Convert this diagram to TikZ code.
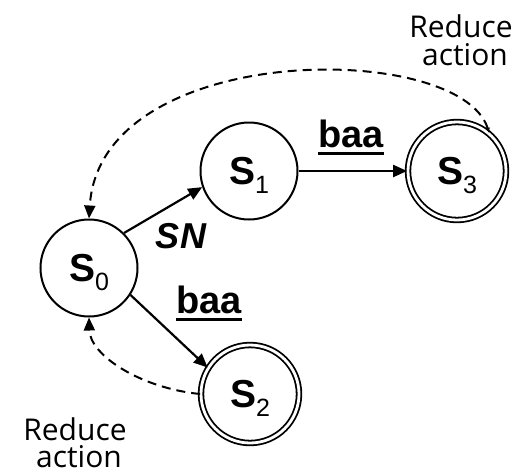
\documentclass[tikz,border=0pt]{standalone}
\usepackage{fontspec}
\setmainfont{Liberation Sans}
\newfontfamily\handfont{Open Sans}
\usetikzlibrary{arrows.meta}

% state name with a large, lowered, non-bold index
\newcommand\statelabel[1]{\textbf{S}\raisebox{-9pt}[0pt][0pt]{\fontsize{25}{25}\selectfont #1}}
% heavy underline for transition labels
\newcommand\thickul[1]{\setbox0=\hbox{#1}\rlap{\rule[-7.5pt]{\wd0}{2.8pt}}\box0}

\begin{document}
\begin{tikzpicture}[x=1pt,y=-1pt,
  state/.style={circle, draw, line width=2pt, minimum size=97pt, inner sep=0pt,
    font=\fontsize{39}{39}\selectfont},
  accept/.style={state, line width=1.8pt, double, double distance=2.8pt, minimum size=98pt},
  edge/.style={line width=2.2pt, -{Triangle[length=14pt,width=12pt]}},
  reduce/.style={line width=2pt, dash pattern=on 9pt off 6pt,
    -{Triangle[length=13pt,width=11pt]}},
  edgelabel/.style={anchor=base, inner sep=0pt, font=\fontsize{38}{38}\selectfont\bfseries},
  note/.style={anchor=base, inner sep=0pt, font=\fontsize{30}{30}\selectfont\handfont}]

\useasboundingbox (0,0) rectangle (527,475);

% states
\node[state]  (s0) at (89,268)  {\statelabel{0}};
\node[state]  (s1) at (249,171) {\statelabel{1}};
\node[accept] (s3) at (457,171) {\statelabel{3}};
\node[accept] (s2) at (250,394) {\statelabel{2}};

% transitions
\draw[edge] (s0.45) -- (s1.199);
\draw[edge] (s1) -- (s3);
\draw[edge] (s0.-33) -- (s2.148);

% reduce actions back to the start state
\draw[reduce, {Triangle[length=5pt,width=4pt]}-{Triangle[length=13pt,width=11pt]}]
  (s3.50) .. controls (460,40) and (100,40) .. (s0.north);
\draw[reduce] (s2.west) .. controls (140,388) and (90,355) .. (s0.south);

% transition labels
\node[edgelabel] (l13) at (351,147) {\thickul{baa}};
\node[edgelabel] (l02) at (209,313) {\thickul{baa}};
\node[edgelabel, font=\fontsize{36}{36}\selectfont\bfseries\itshape] (l01) at (181,248) {SN};

% notes
\node[note] (r3a) at (461,37)  {Reduce};
\node[note] (r3b) at (465,65)  {action};
\node[note] (r2a) at (75,440)  {Reduce};
\node[note] (r2b) at (79,467)  {action};
\end{tikzpicture}
\end{document}
